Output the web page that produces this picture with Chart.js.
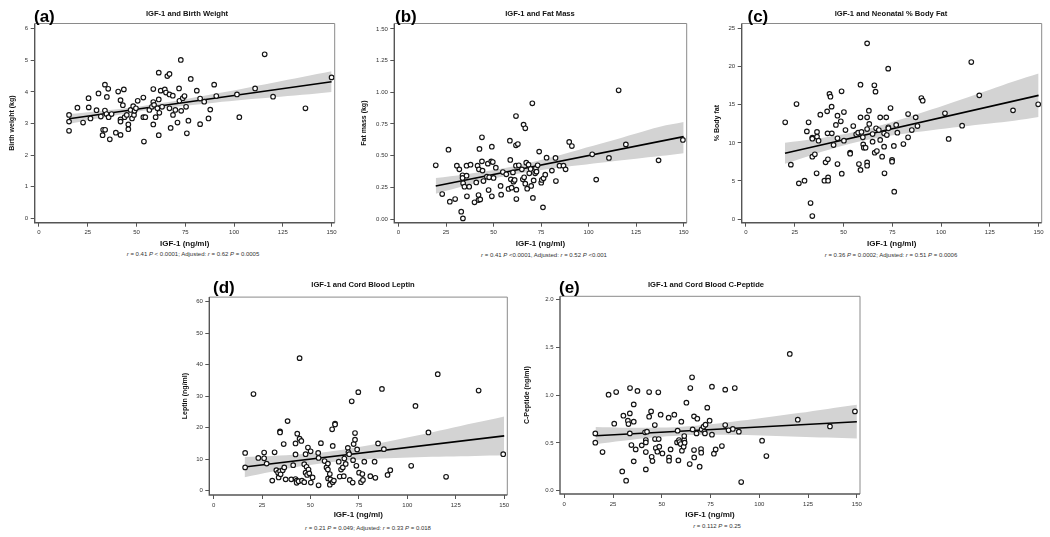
<!DOCTYPE html>
<html><head><meta charset="utf-8">
<script src="https://cdn.jsdelivr.net/npm/chart.js@4.4.1/dist/chart.umd.min.js"></script>
<style>
html,body{margin:0;padding:0;background:#fff;}
#wrap{position:relative;width:1050px;height:537px;overflow:hidden;font-family:"Liberation Sans",Arial,sans-serif;}
canvas{position:absolute;}
.lt{position:absolute;font-weight:bold;font-size:17px;line-height:17px;color:#000;transform:translateY(-50%);}
.tt{position:absolute;font-weight:bold;font-size:7.6px;line-height:8px;color:#111;transform:translate(-50%,-50%);white-space:nowrap;}
.fn{position:absolute;font-size:6px;line-height:7px;color:#333;transform:translate(-50%,-50%);white-space:nowrap;}
</style></head><body><div id="wrap"></div>
<script>
// ---------- data ----------
const xTicks = ['0','25','50','75','100','125','150'];

// (a) IGF-1 vs Birth weight
const bwPoints = [[15.4,3.27],[15.4,3.06],[15.4,2.77],[19.7,3.50],[22.6,3.03],[25.4,3.80],[25.5,3.51],[26.4,3.16],[29.5,3.42],[30.5,3.95],[31.7,3.22],[32.6,2.63],[32.9,2.80],[33.8,4.23],[33.8,3.41],[33.9,2.80],[34.6,3.30],[34.8,3.84],[35.5,4.10],[35.7,3.20],[36.3,2.50],[37.2,3.30],[39.4,2.71],[40.6,4.01],[41.8,3.74],[41.8,3.13],[41.8,3.06],[41.8,2.64],[43.0,3.58],[43.5,4.08],[43.9,3.20],[45.0,3.27],[45.8,2.97],[45.8,2.82],[47.0,3.43],[47.7,3.16],[48.3,3.55],[48.7,3.27],[49.0,3.40],[49.7,3.48],[50.6,3.72],[53.5,3.82],[53.5,3.20],[53.8,2.43],[54.5,3.20],[56.6,3.43],[57.9,3.53],[58.6,4.09],[58.6,3.68],[58.6,2.97],[59.0,3.59],[59.8,3.20],[60.7,3.48],[61.4,4.61],[61.4,3.76],[61.4,2.63],[61.7,3.34],[62.4,4.04],[63.1,3.53],[64.5,4.08],[65.1,3.98],[65.8,4.50],[66.9,4.57],[66.9,3.92],[66.9,3.48],[67.5,2.86],[68.6,3.88],[68.7,3.27],[69.9,3.43],[71.0,3.03],[71.8,4.11],[72.0,3.72],[72.7,5.01],[72.9,3.40],[73.7,3.80],[74.6,3.87],[75.4,3.53],[75.8,2.69],[76.6,3.09],[77.8,4.41],[80.9,4.04],[82.6,3.79],[82.6,2.98],[84.7,3.69],[86.9,3.16],[87.8,3.44],[89.8,4.23],[90.9,3.87],[101.5,3.92],[102.7,3.20],[110.8,4.11],[115.7,5.19],[120.0,3.85],[136.6,3.48],[150.0,4.46]];
const bwFit = [[15.4,3.15],[150,4.32]];
const bwBandX  = [15.4,30,45,60,75,90,105,120,135,150];
const bwBandLo = [2.99,3.16,3.32,3.46,3.56,3.66,3.75,3.83,3.91,4.00];
const bwBandHi = [3.30,3.39,3.49,3.62,3.77,3.94,4.11,4.29,4.47,4.65];
const bwYTicks = ['0','1','2','3','4','5','6'];

// (b) IGF-1 vs Fat mass
const fmPoints = [[19.6,0.424],[23.0,0.197],[26.3,0.547],[27.0,0.137],[29.8,0.158],[30.7,0.421],[32.0,0.392],[33.0,0.058],[33.7,0.345],[33.7,0.324],[33.9,0.005],[34.0,0.282],[34.7,0.255],[35.8,0.342],[35.8,0.421],[36.0,0.179],[37.2,0.255],[37.9,0.429],[40.9,0.289],[40.0,0.132],[41.6,0.421],[42.1,0.189],[42.1,0.150],[42.3,0.392],[42.6,0.553],[43.0,0.155],[43.9,0.455],[43.9,0.645],[44.2,0.382],[44.7,0.300],[46.5,0.334],[47.0,0.437],[47.4,0.229],[47.7,0.329],[48.8,0.455],[49.1,0.571],[49.1,0.179],[49.6,0.450],[50.0,0.324],[51.2,0.405],[53.7,0.261],[54.0,0.192],[54.9,0.371],[56.7,0.353],[57.9,0.237],[58.6,0.618],[58.8,0.466],[59.1,0.313],[59.5,0.247],[60.2,0.368],[60.5,0.295],[61.1,0.308],[61.8,0.813],[61.8,0.582],[61.8,0.421],[62.0,0.232],[62.0,0.158],[62.8,0.592],[63.3,0.424],[64.9,0.392],[65.4,0.313],[65.8,0.745],[66.7,0.716],[66.1,0.329],[66.7,0.279],[67.2,0.445],[67.7,0.239],[68.4,0.429],[68.8,0.361],[69.5,0.395],[69.8,0.261],[70.4,0.913],[70.7,0.166],[71.1,0.305],[71.9,0.361],[72.3,0.400],[72.6,0.374],[73.2,0.424],[74.0,0.532],[75.1,0.287],[75.4,0.308],[76.0,0.092],[76.3,0.321],[77.2,0.350],[77.9,0.484],[80.7,0.382],[82.6,0.482],[82.8,0.300],[84.7,0.421],[86.8,0.421],[87.9,0.392],[89.8,0.608],[91.2,0.576],[101.9,0.511],[104.0,0.311],[110.7,0.482],[119.6,0.589],[115.8,1.016],[136.8,0.463],[149.6,0.624]];
const fmFit = [[19.6,0.261],[150,0.650]];
const fmBandX  = [19.6,35,50,65,80,95,110,125,137.5,150];
const fmBandLo = [0.200,0.262,0.318,0.363,0.397,0.425,0.451,0.476,0.497,0.520];
const fmBandHi = [0.324,0.352,0.386,0.430,0.485,0.547,0.609,0.674,0.728,0.765];
const fmYTicks = ['0.00','0.25','0.50','0.75','1.00','1.25','1.50'];

// (c) IGF-1 vs Neonatal % body fat
const pbfPoints = [[20.1,12.70],[23.0,7.14],[25.9,15.10],[27.1,4.68],[30.0,5.03],[31.2,11.51],[32.1,12.70],[33.1,2.10],[34.0,0.39],[34.0,10.68],[34.0,8.19],[34.0,10.55],[35.3,8.50],[36.2,6.00],[36.4,11.43],[36.4,10.81],[37.2,10.29],[38.1,13.70],[40.2,5.03],[40.8,7.44],[41.6,14.14],[41.8,11.25],[42.0,7.84],[42.1,5.47],[42.1,5.03],[42.8,16.42],[43.3,16.07],[43.9,14.76],[44.0,11.25],[44.9,9.72],[46.1,12.35],[46.9,13.57],[46.9,10.60],[46.9,7.22],[48.6,12.83],[49.0,16.77],[49.1,5.95],[50.2,14.05],[50.2,10.29],[51.0,11.69],[53.4,8.71],[53.4,8.58],[55.0,12.21],[56.5,11.12],[57.5,11.34],[57.9,7.22],[58.7,17.64],[58.7,13.35],[58.7,6.44],[59.2,11.43],[59.9,10.73],[60.1,9.80],[60.4,9.36],[61.3,9.36],[62.1,23.07],[62.1,13.35],[62.1,11.82],[62.1,7.44],[62.1,7.00],[63.0,14.23],[63.2,12.48],[64.9,11.16],[64.9,10.16],[65.8,17.56],[66.0,8.71],[66.4,16.73],[66.7,11.91],[67.1,8.93],[68.1,11.69],[68.8,13.35],[68.8,10.38],[69.8,8.19],[70.8,11.25],[70.8,9.50],[71.0,6.00],[71.9,13.35],[72.2,11.03],[72.9,19.75],[73.0,12.04],[73.0,11.91],[74.1,14.58],[74.9,7.75],[74.9,7.53],[75.8,9.59],[76.0,3.59],[77.0,12.35],[77.6,11.34],[80.7,9.85],[83.1,13.79],[83.1,10.73],[85.0,11.69],[87.0,13.35],[87.9,12.21],[89.9,15.89],[90.6,15.54],[102.0,13.88],[103.9,10.51],[110.8,12.26],[115.5,20.62],[119.6,16.24],[136.9,14.27],[149.8,15.06]];
const pbfFit = [[20,8.63],[150,16.24]];
const pbfBandX  = [20,35,50,65,80,95,110,125,137.5,150];
const pbfBandLo = [7.25,8.51,9.65,10.53,11.16,11.67,12.13,12.56,12.92,13.4];
const pbfBandHi = [10.01,10.51,11.13,11.99,13.12,14.37,15.67,16.98,18.08,19.1];
const pbfYTicks = ['0','5','10','15','20','25'];

// (d) IGF-1 vs Cord blood leptin
const lepPoints = [[16.3,12.0],[16.3,7.4],[20.6,30.7],[23.1,10.4],[26.1,12.1],[26.1,10.3],[27.4,8.6],[30.3,3.2],[31.5,12.2],[32.4,6.5],[33.3,5.7],[33.6,4.2],[34.3,18.8],[34.3,18.5],[34.3,6.2],[34.6,5.2],[35.7,6.5],[36.2,14.8],[36.5,7.4],[37.2,3.6],[38.2,22.1],[40.1,3.6],[41.1,8.1],[42.3,15.0],[42.3,11.5],[42.3,3.7],[42.9,3.2],[42.9,2.5],[43.2,18.1],[43.9,3.0],[44.4,42.1],[44.4,16.5],[45.3,15.8],[45.6,3.2],[46.8,2.7],[46.8,8.4],[47.5,11.6],[47.5,5.7],[48.0,7.6],[48.3,5.0],[48.7,13.7],[49.0,6.7],[49.4,5.5],[50.1,12.5],[50.2,2.6],[51.1,4.2],[54.0,12.0],[54.2,10.4],[54.2,1.7],[55.4,15.1],[57.3,9.4],[58.3,7.4],[59.0,8.6],[59.0,6.7],[59.1,3.9],[60.0,5.3],[60.0,1.9],[60.3,3.6],[61.2,19.5],[61.5,14.2],[61.5,2.7],[62.1,3.2],[62.7,21.3],[62.7,21.0],[64.6,9.2],[65.1,4.5],[65.8,6.7],[66.7,7.4],[67.2,4.6],[67.5,10.2],[68.2,8.5],[69.3,13.6],[69.6,12.2],[70.0,11.6],[70.3,3.4],[71.3,28.4],[71.8,2.6],[72.0,9.7],[72.3,14.8],[73.0,18.3],[73.0,16.2],[73.7,7.9],[74.1,13.1],[74.7,31.3],[75.1,5.7],[76.1,2.7],[76.8,5.3],[77.1,3.4],[77.8,9.2],[80.9,4.6],[83.1,9.2],[83.5,4.1],[84.9,15.0],[86.9,32.3],[87.9,13.2],[89.8,5.0],[91.2,6.5],[102.0,7.9],[104.2,26.9],[110.9,18.5],[115.7,37.0],[120.0,4.4],[136.8,31.8],[149.5,11.6]];
const lepFit = [[16,7.5],[150,17.4]];
const lepBandX  = [16,30,45,60,75,90,105,120,135,150];
const lepBandLo = [4.3,6.05,7.74,9.05,9.84,10.29,10.6,10.84,11.03,11.22];
const lepBandHi = [10.7,11.01,11.54,12.46,13.88,15.65,17.56,19.54,21.55,23.58];
const lepYTicks = ['0','10','20','30','40','50','60'];

// (e) IGF-1 vs Cord blood C-peptide
const cpPoints = [[15.9,0.599],[15.9,0.502],[19.6,0.404],[22.7,1.003],[25.6,0.700],[26.6,1.031],[29.7,0.202],[30.3,0.784],[31.7,0.105],[32.6,0.732],[32.9,0.697],[33.6,0.808],[33.7,1.073],[33.6,0.599],[34.4,0.477],[35.6,0.902],[35.6,0.721],[35.6,0.307],[36.6,0.432],[37.5,1.042],[39.7,0.474],[41.4,0.610],[41.8,0.530],[41.8,0.505],[41.8,0.404],[41.8,0.223],[42.4,0.617],[43.5,1.031],[43.5,0.773],[44.5,0.829],[44.8,0.355],[45.2,0.310],[46.4,0.686],[46.5,0.540],[46.9,0.446],[47.7,0.408],[48.2,1.028],[48.4,0.540],[48.7,0.460],[49.4,0.794],[50.3,0.390],[53.5,0.763],[53.7,0.348],[53.7,0.314],[54.5,0.432],[56.4,0.794],[57.8,0.505],[58.1,0.627],[58.5,0.317],[58.8,0.530],[59.1,0.509],[59.7,0.488],[60.0,0.721],[60.3,0.418],[61.2,0.460],[61.5,0.530],[61.5,0.571],[61.7,0.502],[62.6,0.920],[64.3,0.279],[64.6,1.073],[65.5,1.185],[65.8,0.641],[66.5,0.777],[66.5,0.425],[66.6,0.348],[67.8,0.599],[68.2,0.753],[69.4,0.251],[70.1,0.436],[70.2,0.397],[70.4,0.641],[71.4,0.669],[71.8,0.617],[72.1,0.599],[72.4,0.690],[73.3,0.868],[74.5,0.732],[75.7,1.087],[75.7,0.585],[76.7,0.387],[77.6,0.432],[80.8,0.467],[82.5,1.056],[82.5,0.686],[84.2,0.631],[86.4,0.645],[87.4,1.073],[89.5,0.617],[90.7,0.091],[101.4,0.523],[103.6,0.362],[115.6,1.429],[119.7,0.742],[136.2,0.672],[149.0,0.829]];
const cpFit = [[16,0.575],[150,0.721]];
const cpBandX  = [16,30,45,60,75,90,105,120,135,150];
const cpBandLo = [0.485,0.521,0.556,0.578,0.584,0.581,0.574,0.565,0.555,0.545];
const cpBandHi = [0.665,0.659,0.658,0.668,0.694,0.730,0.770,0.811,0.855,0.897];
const cpYTicks = ['0.0','0.5','1.0','1.5','2.0'];

// ---------- panels ----------
const FONT = '"Liberation Sans", Arial, sans-serif';
const panels = [
  {letter:'(a)', title:'IGF-1 and Birth Weight', yTitle:'Birth weight (kg)', pts:bwPoints, fit:bwFit, bx:bwBandX, lo:bwBandLo, hi:bwBandHi, yt:bwYTicks, ymin:-0.139, ymax:6.165,
   note:'<i>r</i> = 0.41 <i>P</i> &lt; 0.0001; Adjusted: <i>r</i> = 0.62 <i>P</i> = 0.0005',
   box:{l:34.7,r:334.7,t:23.5,b:222.7}, yTitleX:13, xTitleY:243.3, letterX:34, letterY:15.5, titleX:187, titleY:14, noteX:193, noteY:254},
  {letter:'(b)', title:'IGF-1 and Fat Mass', yTitle:'Fat mass (kg)', pts:fmPoints, fit:fmFit, bx:fmBandX, lo:fmBandLo, hi:fmBandHi, yt:fmYTicks, ymin:-0.029, ymax:1.543,
   note:'<i>r</i> = 0.41 <i>P</i> &lt;0.0001, Adjusted: <i>r</i> = 0.52 <i>P</i> &lt;0.001',
   box:{l:394.3,r:686.7,t:23.5,b:222.7}, yTitleX:365, xTitleY:243.3, letterX:395, letterY:15.5, titleX:540, titleY:14, noteX:544, noteY:254.5},
  {letter:'(c)', title:'IGF-1 and Neonatal % Body Fat', yTitle:'% Body fat', pts:pbfPoints, fit:pbfFit, bx:pbfBandX, lo:pbfBandLo, hi:pbfBandHi, yt:pbfYTicks, ymin:-0.486, ymax:25.68,
   note:'<i>r</i> = 0.36 <i>P</i> = 0.0002; Adjusted: <i>r</i> = 0.51 <i>P</i> = 0.0006',
   box:{l:741.7,r:1041.7,t:23.5,b:222.7}, yTitleX:718, xTitleY:243.3, letterX:747.5, letterY:15.5, titleX:891, titleY:14, noteX:891, noteY:255},
  {letter:'(d)', title:'IGF-1 and Cord Blood Leptin', yTitle:'Leptin (ng/ml)', pts:lepPoints, fit:lepFit, bx:lepBandX, lo:lepBandLo, hi:lepBandHi, yt:lepYTicks, ymin:-1.37, ymax:61.49,
   note:'<i>r</i> = 0.21 <i>P</i> = 0.049; Adjusted: <i>r</i> = 0.33 <i>P</i> = 0.018',
   box:{l:209.3,r:507.3,t:297,b:495}, yTitleX:186, xTitleY:515, letterX:213, letterY:287, titleX:363, titleY:285, noteX:368, noteY:527.5},
  {letter:'(e)', title:'IGF-1 and Cord Blood C-Peptide', yTitle:'C-Peptide (ng/ml)', pts:cpPoints, fit:cpFit, bx:cpBandX, lo:cpBandLo, hi:cpBandHi, yt:cpYTicks, ymin:-0.034, ymax:2.031,
   note:'<i>r</i> = 0.112 <i>P</i> = 0.25',
   box:{l:560,r:860,t:296.3,b:494}, yTitleX:528, xTitleY:514.3, letterX:559, letterY:287, titleX:706, titleY:284.7, noteX:717, noteY:526}
];

const frame = {
  id:'frame',
  afterDraw(chart){
    const a = chart.chartArea, c = chart.ctx;
    c.save();
    c.strokeStyle = '#8a8a8a'; c.lineWidth = 1;
    c.beginPath(); c.moveTo(a.left, a.top); c.lineTo(a.right, a.top); c.lineTo(a.right, a.bottom); c.stroke();
    c.strokeStyle = '#555'; c.lineWidth = 1.4;
    c.beginPath(); c.moveTo(a.left, a.top); c.lineTo(a.left, a.bottom); c.lineTo(a.right, a.bottom); c.stroke();
    c.restore();
  }
};

const wrap = document.getElementById('wrap');
const YT_FS = 7, XT_FS = 8, LH = 1.2;

panels.forEach(p => {
  const b = p.box;
  const cl = Math.floor(p.yTitleX - YT_FS*LH/2);
  const ct = Math.floor(b.t - 6);
  const cr = Math.min(1050, Math.ceil(b.r + 9));
  const cb = Math.ceil(p.xTitleY + XT_FS*LH/2);
  const cv = document.createElement('canvas');
  cv.width = cr - cl; cv.height = cb - ct;
  cv.style.left = cl + 'px'; cv.style.top = ct + 'px';
  cv.style.width = (cr-cl) + 'px'; cv.style.height = (cb-ct) + 'px';
  wrap.appendChild(cv);

  const mk = (cls, html, x, y) => { const d = document.createElement('div'); d.className = cls; d.innerHTML = html; d.style.left = x+'px'; d.style.top = y+'px'; wrap.appendChild(d); };
  mk('lt', p.letter, p.letterX, p.letterY);
  mk('tt', p.title, p.titleX, p.titleY);
  mk('fn', p.note, p.noteX, p.noteY);

  const yW = b.l - cl, xH = cb - b.b;
  new Chart(cv, {
    type:'scatter',
    data:{ datasets:[
      {data:p.pts.map(q=>({x:q[0],y:q[1]})), pointRadius:2.3, pointHoverRadius:2.3, borderWidth:1.15, borderColor:'#141414', backgroundColor:'#ffffff'},
      {type:'line', data:p.fit.map(q=>({x:q[0],y:q[1]})), borderColor:'#000', borderWidth:1.6, pointRadius:0, fill:false},
      {type:'line', data:p.bx.map((x,i)=>({x:x,y:p.lo[i]})), borderWidth:0, borderColor:'rgba(0,0,0,0)', pointRadius:0, tension:0.35, fill:false},
      {type:'line', data:p.bx.map((x,i)=>({x:x,y:p.hi[i]})), borderWidth:0, borderColor:'rgba(0,0,0,0)', pointRadius:0, tension:0.35, fill:2, backgroundColor:'#d3d3d3'}
    ]},
    options:{
      responsive:false, animation:false, devicePixelRatio:1,
      layout:{padding:{top:b.t-ct, right:cr-b.r, left:0, bottom:0}},
      plugins:{legend:{display:false}, tooltip:{enabled:false}},
      scales:{
        x:{type:'linear', min:-2.2, max:151.6,
           afterFit:s=>{s.height = xH;},
           afterBuildTicks:s=>{s.ticks = xTicks.map(v=>({value:parseFloat(v)}));},
           ticks:{font:{family:FONT,size:6}, color:'#333', padding:2.3, maxRotation:0, autoSkip:false, callback:v=>String(v)},
           grid:{drawOnChartArea:false, color:'#555', tickColor:'#555', tickLength:4, lineWidth:1},
           border:{display:false},
           title:{display:true, text:'IGF-1 (ng/ml)', font:{family:FONT,size:XT_FS,weight:'bold'}, color:'#111', padding:{top:0,bottom:0}}},
        y:{type:'linear', min:p.ymin, max:p.ymax,
           afterFit:s=>{s.width = yW;},
           afterBuildTicks:s=>{s.ticks = p.yt.map(v=>({value:parseFloat(v)}));},
           ticks:{font:{family:FONT,size:6}, color:'#333', padding:2.5, autoSkip:false, callback:(v)=>{const i=p.yt.findIndex(t=>parseFloat(t)===v); return i>=0?p.yt[i]:'';}},
           grid:{drawOnChartArea:false, color:'#555', tickColor:'#555', tickLength:4, lineWidth:1},
           border:{display:false},
           title:{display:true, text:p.yTitle, font:{family:FONT,size:YT_FS,weight:'bold'}, color:'#111', padding:{top:0,bottom:0}}}
      }
    },
    plugins:[frame]
  });
});
</script></body></html>
